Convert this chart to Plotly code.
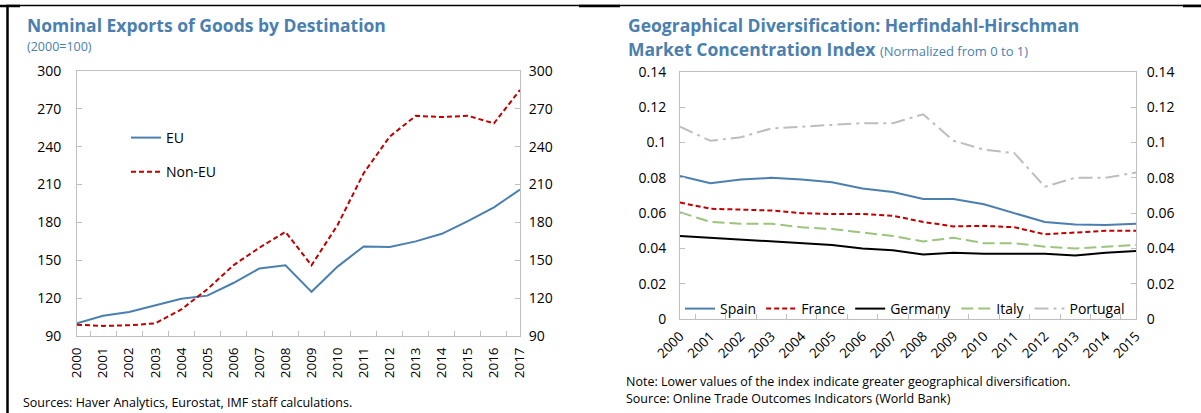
import plotly.graph_objects as go

W, H = 1201, 413

# ---------------- data ----------------
years_left = [str(y) for y in range(2000, 2018)]
eu = [100, 106, 109, 114, 119.5, 122, 132, 143.5, 146, 125, 145, 161, 160.5, 165, 171, 181, 192, 206]
non_eu = [99, 98, 98.5, 100, 111, 127, 146, 160, 172.5, 146, 178, 219, 248, 264.5, 263.5, 264.5, 258.5, 285]
left_ticks = [90, 120, 150, 180, 210, 240, 270, 300]

years_right = [str(y) for y in range(2000, 2016)]
spain = [0.081, 0.077, 0.079, 0.080, 0.079, 0.0775, 0.074, 0.072, 0.068, 0.068, 0.065, 0.060, 0.055, 0.0535, 0.0533, 0.054]
france = [0.066, 0.0625, 0.062, 0.0615, 0.060, 0.0595, 0.0595, 0.0585, 0.055, 0.0525, 0.0528, 0.052, 0.048, 0.049, 0.050, 0.050]
germany = [0.047, 0.046, 0.045, 0.044, 0.043, 0.042, 0.040, 0.039, 0.0365, 0.0375, 0.037, 0.037, 0.037, 0.036, 0.0375, 0.0385]
italy = [0.0605, 0.055, 0.054, 0.054, 0.052, 0.051, 0.049, 0.047, 0.044, 0.046, 0.043, 0.043, 0.041, 0.040, 0.041, 0.042]
portugal = [0.109, 0.101, 0.103, 0.108, 0.109, 0.110, 0.111, 0.111, 0.116, 0.101, 0.096, 0.094, 0.075, 0.080, 0.080, 0.083]
right_ticks = [0, 0.02, 0.04, 0.06, 0.08, 0.10, 0.12, 0.14]
right_tick_text = ["0", "0.02", "0.04", "0.06", "0.08", "0.1", "0.12", "0.14"]

# ---------------- style ----------------
FONT = "Open Sans"
BLUE = "#4a7fb0"
RED = "#c00000"
GRID = "#bfbfbf"

def px(x):
    return x / W

def py(y):
    return 1 - y / H

fig = go.Figure()

# left panel
fig.add_trace(go.Scatter(x=years_left, y=eu, name="EU", mode="lines",
                         line=dict(color=BLUE, width=2), xaxis="x", yaxis="y",
                         legend="legend", legendgroup="a"))
fig.add_trace(go.Scatter(x=years_left, y=non_eu, name="Non-EU", mode="lines",
                         line=dict(color=RED, width=2, dash="5px,3px"), xaxis="x", yaxis="y",
                         legend="legend", legendgroup="b"))
fig.add_trace(go.Scatter(x=years_left, y=eu, mode="lines", opacity=0, showlegend=False,
                         hoverinfo="skip", xaxis="x", yaxis="y2"))

# right panel
series = [
    ("Spain", spain, dict(color=BLUE, width=2)),
    ("France", france, dict(color=RED, width=2, dash="5px,3px")),
    ("Germany", germany, dict(color="#000000", width=2)),
    ("Italy", italy, dict(color="#9cc47c", width=2, dash="12px,5px")),
    ("Portugal", portugal, dict(color="#bdbdbd", width=2, dash="14px,5px,3px,5px")),
]
for name, vals, ln in series:
    fig.add_trace(go.Scatter(x=years_right, y=vals, name=name, mode="lines", line=ln,
                             xaxis="x2", yaxis="y3", legend="legend2"))
fig.add_trace(go.Scatter(x=years_right, y=spain, mode="lines", opacity=0, showlegend=False,
                         hoverinfo="skip", xaxis="x2", yaxis="y4"))

axis_common = dict(showline=True, linecolor=GRID, linewidth=1, mirror=False,
                   showgrid=False, zeroline=False, ticks="inside", ticklen=5,
                   tickcolor=GRID, automargin=False,
                   tickfont=dict(family=FONT, size=14, color="#000"))

L0, L1 = px(77), px(520)
R0, R1 = px(680), px(1136)
Y0L, Y1L = py(336), py(71)
Y0R, Y1R = py(319), py(72)

fig.update_layout(
    width=W, height=H,
    margin=dict(l=0, r=0, t=0, b=0, pad=0, autoexpand=False),
    paper_bgcolor="white", plot_bgcolor="white",
    font=dict(family=FONT, color="#000"),
    xaxis=dict(axis_common, domain=[L0, L1], anchor="y", type="category",
               tickson="boundaries", tickangle=-90, mirror=True, ticklabelstandoff=5,
               tickfont=dict(family=FONT, size=13.5, color="#000")),
    yaxis=dict(axis_common, domain=[Y0L, Y1L], anchor="x", range=[90, 300],
               tickvals=left_ticks, mirror=True, ticklabelstandoff=12),
    yaxis2=dict(axis_common, overlaying="y", anchor="x", side="right", range=[90, 300],
                tickvals=left_ticks, ticklabelstandoff=5),
    xaxis2=dict(axis_common, domain=[R0, R1], anchor="y3", type="category",
                tickson="boundaries", tickangle=-45, mirror=True, ticklabelstandoff=3,
                tickfont=dict(family=FONT, size=13.5, color="#000")),
    yaxis3=dict(axis_common, domain=[Y0R, Y1R], anchor="x2", range=[0, 0.14],
                tickvals=right_ticks, ticktext=right_tick_text, mirror=True,
                ticklabelstandoff=10),
    yaxis4=dict(axis_common, overlaying="y3", anchor="x2", side="right", range=[0, 0.14],
                tickvals=right_ticks, ticktext=right_tick_text, ticklabelstandoff=7),
    legend=dict(x=px(126), y=py(122), xanchor="left", yanchor="top",
                orientation="v", traceorder="grouped", tracegroupgap=13,
                bgcolor="rgba(0,0,0,0)", font=dict(family=FONT, size=14, color="#000"),
                itemwidth=30),
    legend2=dict(x=px(680), y=py(293), xanchor="left", yanchor="top",
                 orientation="h", bgcolor="rgba(0,0,0,0)",
                 font=dict(family=FONT, size=14, color="#000"), itemwidth=30),
    showlegend=True,
)

ann = []
def add(text, x, y, size, color="#000"):
    ann.append(dict(text=text, x=px(x), y=py(y), xref="paper", yref="paper",
                    xanchor="left", yanchor="middle", showarrow=False,
                    font=dict(family=FONT, size=size, color=color)))

add("<b>Nominal Exports of Goods by Destination</b>", 25, 25, 17.5, BLUE)
add("(2000=100)", 25, 47, 12.5, BLUE)
add("Sources: Haver Analytics, Eurostat, IMF staff calculations.", 21, 402, 12.5)
add("<b>Geographical Diversification: Herfindahl-Hirschman</b>", 626, 25, 17.5, BLUE)
add("<b>Market Concentration Index</b> <span style='font-size:13px'>(Normalized from 0 to 1)</span>",
    626, 49, 17.5, BLUE)
add("Note: Lower values of the index indicate greater geographical diversification.", 624, 381, 12.5)
add("Source: Online Trade Outcomes Indicators (World Bank)", 624, 398, 12.5)
fig.update_layout(annotations=ann)

shapes = [
    dict(type="line", xref="paper", yref="paper", x0=px(6), x1=1, y0=py(5.5), y1=py(5.5),
         line=dict(color="#000", width=1.5)),
    dict(type="line", xref="paper", yref="paper", x0=0, x1=px(20), y0=py(6), y1=py(6),
         line=dict(color="#000", width=2.5)),
    dict(type="line", xref="paper", yref="paper", x0=px(579), x1=px(620), y0=py(6), y1=py(6),
         line=dict(color="#000", width=2.5)),
    dict(type="line", xref="paper", yref="paper", x0=px(1183), x1=1, y0=py(6), y1=py(6),
         line=dict(color="#000", width=2.5)),
    dict(type="line", xref="paper", yref="paper", x0=px(7.5), x1=px(7.5), y0=py(5), y1=0,
         line=dict(color="#000", width=2.5)),
]
fig.update_layout(shapes=shapes)

fig.write_html("out.html", config={"displayModeBar": False},
               post_script="document.body.style.margin='0';document.body.style.padding='0';document.body.style.overflow='hidden';")
